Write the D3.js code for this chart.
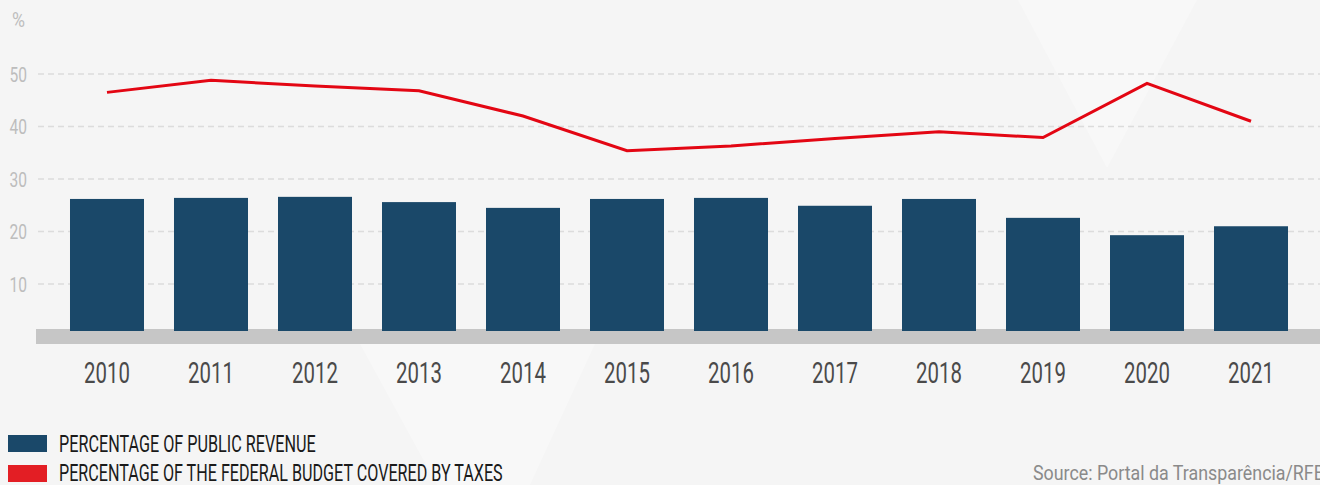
<!DOCTYPE html>
<html>
<head>
<meta charset="utf-8">
<script src="https://cdn.jsdelivr.net/npm/d3@7"></script>
<style>
  html, body { margin: 0; padding: 0; background: #f5f5f5; }
  svg { display: block; }
  text { font-family: Roboto, "DejaVu Sans", sans-serif; }
</style>
</head>
<body>
<div id="vis"></div>
<script>
// DATA
const years = ["2010","2011","2012","2013","2014","2015","2016","2017","2018","2019","2020","2021"];
const publicRevenue = [26.2, 26.4, 26.6, 25.6, 24.5, 26.2, 26.4, 24.9, 26.2, 22.6, 19.3, 21.0];
const budgetByTaxes = [46.5, 48.8, 47.7, 46.8, 42.0, 35.4, 36.3, 37.7, 39.0, 37.9, 48.2, 41.0];
const yTicks = [10, 20, 30, 40, 50];
const legendLabels = ["PERCENTAGE OF PUBLIC REVENUE", "PERCENTAGE OF THE FEDERAL BUDGET COVERED BY TAXES"];
const sourceText = "Source: Portal da Transparência/RFB";

const width = 1320, height = 485;
const blue = "#1a4869", red = "#e30613", legendRed = "#e31e24";

// squeeze a text horizontally so it takes the given width (the original font is a condensed one)
function squeeze(node, target, x, y, anchor) {
  const w = node.getComputedTextLength();
  const k = target / w;
  d3.select(node).attr("x", 0).attr("y", 0)
    .attr("text-anchor", anchor || "start")
    .attr("transform", `translate(${x},${y}) scale(${k},1)`);
}

const svg = d3.select("#vis").append("svg")
  .attr("width", width)
  .attr("height", height);

// background
svg.append("rect").attr("width", width).attr("height", height).attr("fill", "#f5f5f5");
const bgShapes = [
  [[1018,0],[1197,0],[1107,168]],
  [[360,344],[595,344],[530,485],[437,485]]
];
svg.selectAll(".bg").data(bgShapes).enter().append("polygon")
  .attr("class", "bg")
  .attr("points", d => d.map(p => p.join(",")).join(" "))
  .attr("fill", "#ffffff")
  .attr("opacity", 0.3);

// SCALES
const x = d3.scaleBand()
  .domain(years)
  .range([55, 1303])
  .paddingInner(0.2885)
  .paddingOuter(0.1442);

const y = d3.scaleLinear()
  .domain([0, 50])
  .range([336.5, 74]);

// grid
svg.append("g").selectAll("line").data(yTicks).enter().append("line")
  .attr("x1", 38).attr("x2", width)
  .attr("y1", d => y(d)).attr("y2", d => y(d))
  .attr("stroke", "#dcdcdc")
  .attr("stroke-width", 1.5)
  .attr("stroke-dasharray", "6,4");

// y labels
svg.append("g").selectAll("text").data(yTicks).enter().append("text")
  .attr("font-size", 21)
  .attr("fill", "#bdbdbd")
  .text(d => d)
  .each(function(d) { squeeze(this, 17.5, 27, y(d) + 7.5, "end"); });

const pct = svg.append("text")
  .attr("font-size", 21)
  .attr("fill", "#bdbdbd")
  .text("%");
squeeze(pct.node(), 13, 12, 27);

// baseline band
svg.append("rect")
  .attr("x", 36).attr("y", 329)
  .attr("width", width - 36).attr("height", 15)
  .attr("fill", "#c6c6c6");

// bars
svg.selectAll(".bar").data(years).enter().append("rect")
  .attr("class", "bar")
  .attr("x", d => x(d))
  .attr("width", x.bandwidth())
  .attr("y", (d, i) => y(publicRevenue[i]))
  .attr("height", (d, i) => 331 - y(publicRevenue[i]))
  .attr("fill", blue);

// line
const line = d3.line()
  .x((d, i) => x(years[i]) + x.bandwidth() / 2)
  .y(d => y(d));

svg.append("path")
  .datum(budgetByTaxes)
  .attr("d", line)
  .attr("fill", "none")
  .attr("stroke", red)
  .attr("stroke-width", 3);

// x labels
svg.append("g").selectAll("text").data(years).enter().append("text")
  .attr("font-size", 30)
  .attr("fill", "#4a4a4a")
  .text(d => d)
  .each(function(d) {
    const w = this.getComputedTextLength();
    squeeze(this, w * 0.68, x(d) + x.bandwidth() / 2, 383, "middle");
  });

// legend
const legendColors = [blue, legendRed];
const legendWidths = [257, 444];
const legend = svg.append("g");
legendLabels.forEach((lab, i) => {
  legend.append("rect")
    .attr("x", 8).attr("y", 435 + i * 30)
    .attr("width", 39).attr("height", 17)
    .attr("fill", legendColors[i]);
  const t = legend.append("text")
    .attr("font-size", 23)
    .attr("fill", "#1a1a1a")
    .text(lab);
  squeeze(t.node(), legendWidths[i], 59, 451.5 + i * 29.5);
});

// source
const src = svg.append("text")
  .attr("font-size", 20)
  .attr("fill", "#8a8a8a")
  .text(sourceText);
squeeze(src.node(), 292, 1033, 480);
</script>
</body>
</html>
